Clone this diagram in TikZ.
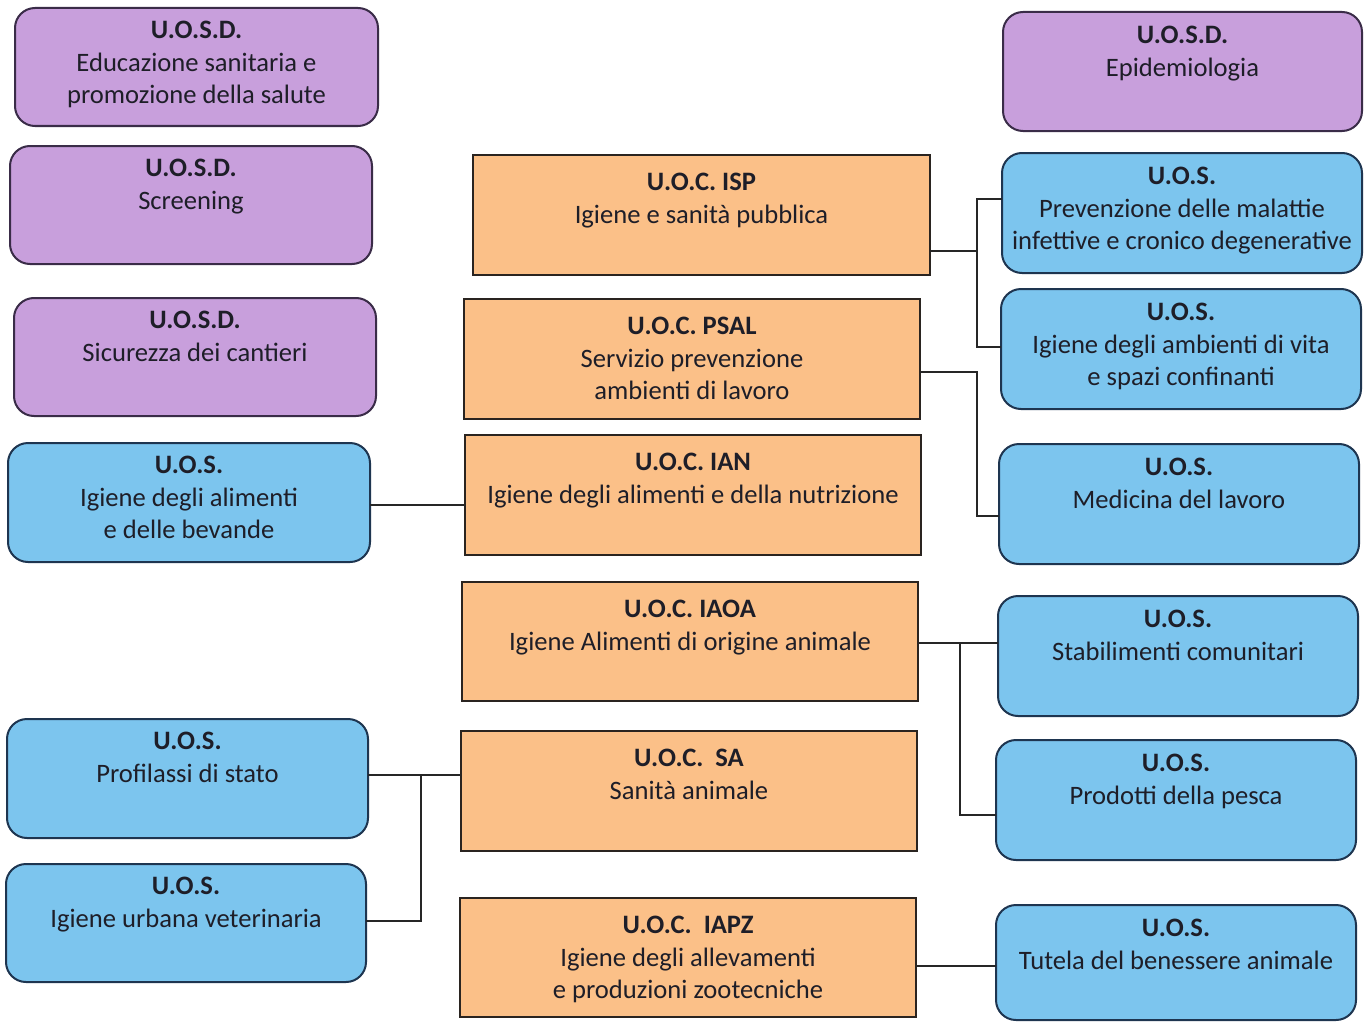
\documentclass[tikz,border=0pt]{standalone}
\usepackage{fontspec}
\setmainfont{Carlito}
\definecolor{purp}{HTML}{C89FDC}
\definecolor{purpB}{HTML}{3A2C48}
\definecolor{blu}{HTML}{7CC5EE}
\definecolor{bluB}{HTML}{1E3550}
\definecolor{ora}{HTML}{FBC088}
\definecolor{oraB}{HTML}{2A2420}
\definecolor{txt}{HTML}{1E1E28}
\definecolor{lnk}{HTML}{262626}
\newcommand{\bx}[4]{\parbox[c][#2pt][t]{#1pt}{\centering\vspace*{#3pt}\strut #4}}
\tikzset{
  base/.style={line width=2pt, inner sep=0pt, outer sep=0pt, anchor=north west, text=txt,
    font=\fontsize{26.6}{32.5}\selectfont},
  purpbox/.style={base, fill=purp, draw=purpB, rounded corners=20pt},
  blubox/.style={base, fill=blu, draw=bluB, rounded corners=20pt},
  orabox/.style={base, fill=ora, draw=oraB},
  link/.style={line width=2.2pt, draw=lnk}
}
\begin{document}
\begin{tikzpicture}[x=1pt,y=-1pt]
\fill[white] (0,0) rectangle (1364,1022);
\useasboundingbox (0,0) rectangle (1364,1022);
% left column
\node[purpbox] (edu) at (15,8) {\bx{363}{118}{8}{\textbf{U.O.S.D.}\\Educazione sanitaria e\\promozione della salute}};
\node[purpbox] (scr) at (10,146) {\bx{362}{118}{8}{\textbf{U.O.S.D.}\\Screening}};
\node[purpbox] (sic) at (14,298) {\bx{362}{118}{8}{\textbf{U.O.S.D.}\\Sicurezza dei cantieri}};
\node[blubox] (ali) at (8,443) {\bx{362}{119}{8}{\textbf{U.O.S.}\\Igiene degli alimenti\\e delle bevande}};
\node[blubox] (pro) at (7,719) {\bx{361}{119}{8}{\textbf{U.O.S.}\\Profilassi di stato}};
\node[blubox] (urb) at (6,864) {\bx{360}{118}{8}{\textbf{U.O.S.}\\Igiene urbana veterinaria}};
% centre column
\node[orabox] (isp) at (473,155) {\bx{457}{120}{13}{\textbf{U.O.C. ISP}\\Igiene e sanità pubblica}};
\node[orabox] (psal) at (464,299) {\bx{456}{120}{13}{\textbf{U.O.C. PSAL}\\Servizio prevenzione\\ambienti di lavoro}};
\node[orabox] (ian) at (465,435) {\bx{456}{120}{13}{\textbf{U.O.C. IAN}\\Igiene degli alimenti e della nutrizione}};
\node[orabox] (iaoa) at (462,582) {\bx{456}{119}{13}{\textbf{U.O.C. IAOA}\\Igiene Alimenti di origine animale}};
\node[orabox] (sa) at (461,731) {\bx{456}{120}{13}{\textbf{U.O.C.~ SA}\\Sanità animale}};
\node[orabox] (iapz) at (460,898) {\bx{456}{119}{13}{\textbf{U.O.C.~ IAPZ}\\Igiene degli allevamenti\\e produzioni zootecniche}};
% right column
\node[purpbox] (epi) at (1003,12) {\bx{359}{119}{9}{\textbf{U.O.S.D.}\\Epidemiologia}};
\node[blubox] (prev) at (1002,153) {\bx{360}{120}{9}{\textbf{U.O.S.}\\Prevenzione delle malattie\\infettive e cronico degenerative}};
\node[blubox] (amb) at (1001,289) {\bx{360}{120}{9}{\textbf{U.O.S.}\\Igiene degli ambienti di vita\\e spazi confinanti}};
\node[blubox] (med) at (999,444) {\bx{360}{120}{9}{\textbf{U.O.S.}\\Medicina del lavoro}};
\node[blubox] (sta) at (998,596) {\bx{360}{120}{9}{\textbf{U.O.S.}\\Stabilimenti comunitari}};
\node[blubox] (pes) at (996,740) {\bx{360}{120}{9}{\textbf{U.O.S.}\\Prodotti della pesca}};
\node[blubox] (tut) at (996,905) {\bx{360}{115}{9}{\textbf{U.O.S.}\\Tutela del benessere animale}};
% junction coordinates
\coordinate (jisp) at (977,251);
\coordinate (jprevA) at (977,199);
\coordinate (jambB) at (977,347);
\coordinate (jpsal) at (977,372);
\coordinate (jmed) at (977,516);
\coordinate (jian) at (420,505);
\coordinate (jiaoa) at (960,643);
\coordinate (jpes) at (960,815);
\coordinate (jsa) at (421,775);
\coordinate (jurb) at (421,921);
\coordinate (jiapz) at (950,966);
% connectors
\draw[link] (isp.east |- jisp) -- (jisp);
\draw[link] (prev.west |- jprevA) -- (jprevA) -- (jambB) -- (amb.west |- jambB);
\draw[link] (psal.east |- jpsal) -- (jpsal) -- (jmed) -- (med.west |- jmed);
\draw[link] (ali.east |- jian) -- (ian.west |- jian);
\draw[link] (iaoa.east |- jiaoa) -- (sta.west |- jiaoa);
\draw[link] (jiaoa) -- (jpes) -- (pes.west |- jpes);
\draw[link] (pro.east |- jsa) -- (sa.west |- jsa);
\draw[link] (jsa) -- (jurb) -- (urb.east |- jurb);
\draw[link] (iapz.east |- jiapz) -- (tut.west |- jiapz);
\end{tikzpicture}
\end{document}
